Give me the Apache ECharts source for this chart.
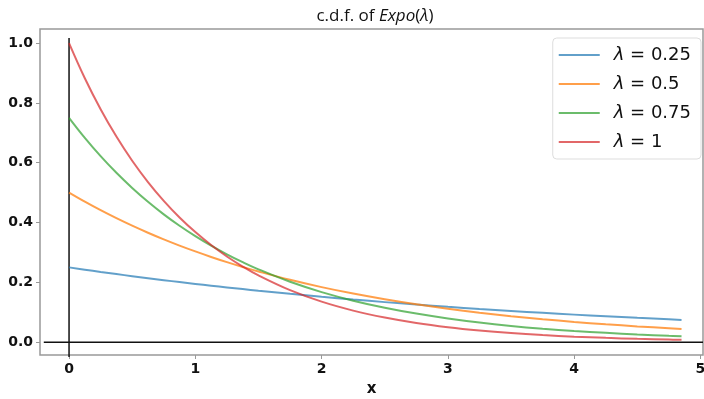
<!DOCTYPE html>
<html><head><meta charset="utf-8">
<script src="https://cdn.jsdelivr.net/npm/echarts@6/dist/echarts.min.js"></script>
<style>html,body{margin:0;padding:0;background:#fff}#c{width:704px;height:399px}</style>
</head><body><div id="c"></div>
<script>
const xs = [0,0.125,0.25,0.375,0.5,0.625,0.75,0.875,1,1.125,1.25,1.375,1.5,1.75,2,2.25,2.5,2.75,3,3.25,3.5,3.75,4,4.25,4.5,4.75,4.85];
const lam025 = [0.25,0.2423,0.2348,0.2276,0.2206,0.2138,0.2072,0.2009,0.1947,0.1887,0.1829,0.1773,0.1718,0.1614,0.1516,0.1424,0.1338,0.1257,0.1181,0.1109,0.1042,0.0979,0.0920,0.0864,0.0812,0.0763,0.0744];
const lam05 = [0.5,0.4697,0.4412,0.4145,0.3894,0.3658,0.3436,0.3228,0.3033,0.2849,0.2676,0.2514,0.2362,0.2084,0.1839,0.1623,0.1433,0.1264,0.1116,0.0985,0.0869,0.0767,0.0677,0.0597,0.0527,0.0465,0.0442];
const lam075 = [0.75,0.6829,0.6217,0.5661,0.5155,0.4693,0.4273,0.3891,0.3543,0.3226,0.2937,0.2674,0.2435,0.2018,0.1673,0.1387,0.1150,0.0954,0.0791,0.0655,0.0543,0.0450,0.0373,0.0310,0.0257,0.0213,0.0198];
const lam1 = [1,0.8825,0.7788,0.6873,0.6065,0.5353,0.4724,0.4169,0.3679,0.3247,0.2865,0.2528,0.2231,0.1738,0.1353,0.1054,0.0821,0.0639,0.0498,0.0388,0.0302,0.0235,0.0183,0.0143,0.0111,0.0087,0.0078];
const seriesNames = ['0.25','0.5','0.75','1'];
const xTicks = [0,1,2,3,4,5];
const yTicks = [0,0.2,0.4,0.6,0.8,1.0];
const vRef = [[0,-0.05],[0,1.017]];
const hRef = [[-0.2,0],[5.02,0]];
const colors = ['rgba(31,119,180,0.7)','rgba(255,127,14,0.75)','rgba(44,160,44,0.7)','rgba(214,39,40,0.7)'];
const allVals = [lam025, lam05, lam075, lam1];

const chart = echarts.init(document.getElementById('c'));
const series = allVals.map((vals, i) => ({
  name: seriesNames[i], type: 'line', smooth: 0.4, showSymbol: false,
  data: xs.map((x, j) => [x, vals[j]]),
  lineStyle: { width: 2, color: colors[i] }, itemStyle: { color: colors[i] }, z: 3
}));
series.push({ name: 'vref', type: 'line', showSymbol: false, clip: false, data: vRef, lineStyle: { color: '#111', width: 1.5 }, z: 2, silent: true });
series.push({ name: 'href', type: 'line', showSymbol: false, data: hRef, lineStyle: { color: '#111', width: 1.5 }, z: 2, silent: true });
chart.setOption({
  animation: false,
  title: {
    text: '{n|c.d.f. of }{i|Expo}{n|(}{i|λ}{n|)}', left: 370, textAlign: 'center', top: 3,
    textStyle: { fontWeight: 'normal', rich: {
      n: { fontFamily: 'Open Sans', fontSize: 17, fontWeight: 'normal', color: '#111' },
      i: { fontFamily: 'Open Sans', fontStyle: 'italic', fontWeight: 'normal', fontSize: 17, color: '#111' } } }
  },
  grid: { left: 40, top: 29, right: 1, bottom: 44, show: true, borderColor: '#999', borderWidth: 1.5,
    containLabel: false, outerBoundsMode: 'none' },
  legend: {
    data: seriesNames,
    orient: 'vertical', right: 3, top: 38, itemWidth: 41, itemHeight: 2, itemGap: 11,
    backgroundColor: '#fff', borderColor: '#ddd', borderWidth: 1, borderRadius: 4,
    padding: [8, 10, 8, 6],
    formatter: n => '{i|λ}{n| = ' + n + '}',
    textStyle: { padding: [0, 0, 0, 9], rich: {
      i: { fontFamily: 'DejaVu Sans', fontStyle: 'italic', fontSize: 18, color: '#111' },
      n: { fontFamily: 'DejaVu Sans', fontSize: 18, color: '#111' } } },
    icon: 'rect'
  },
  xAxis: {
    type: 'value', min: -0.23, max: 5.02, name: 'x', nameLocation: 'middle', nameGap: 27,
    nameTextStyle: { fontFamily: 'DejaVu Sans', fontSize: 15, fontWeight: 'bold', color: '#111' },
    axisLine: { show: false, onZero: false }, splitLine: { show: false },
    axisTick: { show: true, length: 4, customValues: xTicks, lineStyle: { color: '#999' } },
    axisLabel: { customValues: xTicks, fontFamily: 'DejaVu Sans', fontWeight: 'bold', fontSize: 14, color: '#111', margin: 7 }
  },
  yAxis: {
    type: 'value', min: -0.043, max: 1.047,
    axisLine: { show: false, onZero: false }, splitLine: { show: false },
    axisTick: { show: true, length: 4, customValues: yTicks, lineStyle: { color: '#999' } },
    axisLabel: { customValues: yTicks, fontFamily: 'DejaVu Sans', fontWeight: 'bold', fontSize: 14, color: '#111', margin: 7,
      formatter: v => v.toFixed(1) }
  },
  series: series
});
</script></body></html>
